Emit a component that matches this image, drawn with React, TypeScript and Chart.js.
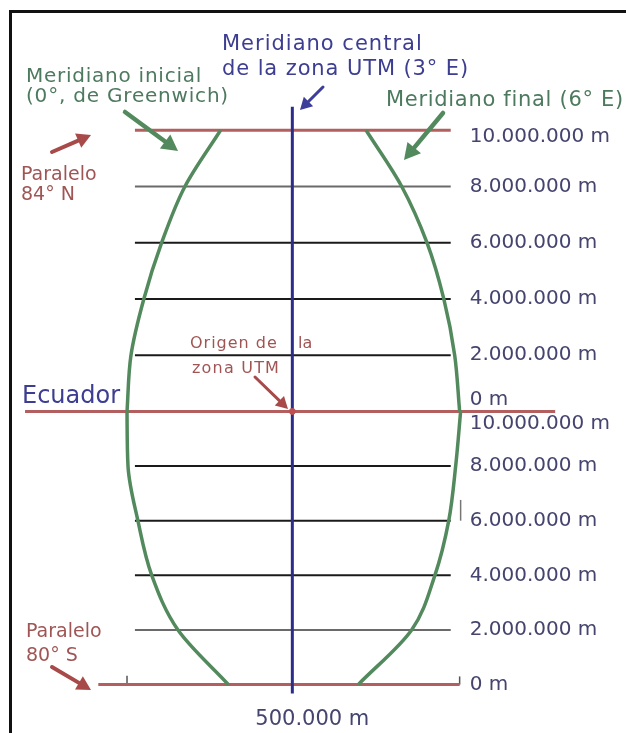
import { useEffect, useRef } from 'react';
import { Chart, registerables } from 'chart.js';

Chart.register(...registerables);

// ---- data (metres) ----
const NORTHING_TICKS = [10000000, 8000000, 6000000, 4000000, 2000000, 0];
const NORTH_LABELS = ['10.000.000 m', '8.000.000 m', '6.000.000 m', '4.000.000 m', '2.000.000 m', '0 m'];
const SOUTH_LABELS = ['10.000.000 m', '8.000.000 m', '6.000.000 m', '4.000.000 m', '2.000.000 m', '0 m'];

const CURVE_NORTHING = [10000000, 8000000, 6000000, 4000000, 2000000, 0];
const LEFT_NORTH_EASTING = [355000, 283000, 236000, 200000, 174000, 166000];
const RIGHT_NORTH_EASTING = [649000, 721000, 772000, 806000, 828000, 838000];
const LEFT_SOUTH_EASTING = [166000, 168000, 188000, 216000, 269000, 371000];
const RIGHT_SOUTH_EASTING = [840000, 830000, 816000, 788000, 741000, 633000];

const GRID_NORTHINGS = [8000000, 6000000, 4000000, 2000000];
const GRID_EASTING = [182000, 820000];
const TOP_PARALLEL = 10000000;
const EQUATOR_EASTING = [-40000, 1031000];
const BOTTOM_EASTING = [108000, 838000];
const CENTRAL_EASTING = 500000;
const CENTRAL_SPAN = [10840000, -10035000];
const X_TICK = 500000;
const X_TICK_LABEL = '500.000 m';

const RED = '#b35f5f';
const GREEN = '#538a5d';
const BLUE = '#2c2c8c';

const FONT = '"DejaVu Sans", sans-serif';

function arrow(ctx: CanvasRenderingContext2D, x1: number, y1: number, x2: number, y2: number, color: string, w: number, head: number) {
  const ang = Math.atan2(y2 - y1, x2 - x1);
  const bx = x2 - head * Math.cos(ang);
  const by = y2 - head * Math.sin(ang);
  ctx.strokeStyle = color;
  ctx.lineWidth = w;
  ctx.lineCap = 'round';
  ctx.beginPath();
  ctx.moveTo(x1, y1);
  ctx.lineTo(bx, by);
  ctx.stroke();
  ctx.fillStyle = color;
  ctx.beginPath();
  ctx.moveTo(x2, y2);
  ctx.lineTo(bx + head * 0.55 * Math.sin(ang), by - head * 0.55 * Math.cos(ang));
  ctx.lineTo(bx - head * 0.55 * Math.sin(ang), by + head * 0.55 * Math.cos(ang));
  ctx.closePath();
  ctx.fill();
}

function text(ctx: CanvasRenderingContext2D, s: string, x: number, y: number, size: number, color: string, spacing = 0) {
  ctx.font = `${size}px ${FONT}`;
  ctx.fillStyle = color;
  (ctx as any).letterSpacing = `${spacing}px`;
  ctx.fillText(s, x, y);
  (ctx as any).letterSpacing = '0px';
}

const overlay = {
  id: 'overlay',
  afterDatasetsDraw(chart: any) {
    const ctx: CanvasRenderingContext2D = chart.ctx;
    const sx = chart.scales.x;
    const yN = chart.scales.y;
    const yS = chart.scales.y2;
    ctx.save();

    // right-hand northing labels
    ctx.textAlign = 'left';
    ctx.textBaseline = 'middle';
    const lx = sx.getPixelForValue(GRID_EASTING[1]) + 19;
    NORTHING_TICKS.forEach((v, i) => {
      let py = yN.getPixelForValue(v);
      if (i === 0) py += 7;
      if (v === 0) py -= 12;
      text(ctx, NORTH_LABELS[i], lx, py, 20, '#44446e');
    });
    NORTHING_TICKS.forEach((v, i) => {
      let py = yS.getPixelForValue(v);
      if (i === 0) py += 12;
      text(ctx, SOUTH_LABELS[i], lx, py, 20, '#44446e');
    });

    // easting label
    ctx.textAlign = 'center';
    ctx.textBaseline = 'alphabetic';
    text(ctx, X_TICK_LABEL, sx.getPixelForValue(X_TICK) + 20, 725, 21, '#44446e');

    // annotations
    ctx.textAlign = 'left';
    text(ctx, 'Meridiano central', 222, 50, 21, '#3d3d92', 1);
    text(ctx, 'de la zona UTM (3° E)', 222, 75, 21, '#3d3d92', 0.9);
    text(ctx, 'Meridiano inicial', 26, 82, 20, '#4d7a5e', 0.75);
    text(ctx, '(0°, de Greenwich)', 26, 102, 20, '#4d7a5e', 0.8);
    text(ctx, 'Meridiano final (6° E)', 386, 106, 21, '#4d7a5e', 0.7);
    text(ctx, 'Paralelo', 21, 180, 19, '#a05555');
    text(ctx, '84° N', 21, 200, 19, '#a05555');
    text(ctx, 'Ecuador', 22, 403, 24, '#3d3d92');
    text(ctx, 'Origen de', 190, 348, 16, '#a05555', 1);
    text(ctx, 'la', 298, 348, 16, '#a05555');
    text(ctx, 'zona UTM', 192, 373, 16, '#a05555', 1.2);
    text(ctx, 'Paralelo', 26, 637, 19, '#a05555');
    text(ctx, '80° S', 26, 661, 19, '#a05555');

    arrow(ctx, 323, 87, 300, 110, '#3d3d9a', 3, 12);
    arrow(ctx, 125, 112, 178, 151, GREEN, 4.5, 16);
    arrow(ctx, 443, 113, 404, 160, GREEN, 4.5, 16);
    arrow(ctx, 52, 152, 91, 135, '#a84a4a', 4, 14);
    arrow(ctx, 255, 377, 288, 409, '#a84a4a', 3, 12);
    arrow(ctx, 52, 667, 91, 690, '#a84a4a', 4, 14);

    ctx.restore();
  },
};

function line(points: { x: number; y: number }[], axis: string, color: string, width: number, order: number) {
  return {
    data: points,
    yAxisID: axis,
    xAxisID: 'x',
    borderColor: color,
    backgroundColor: color,
    borderWidth: width,
    showLine: true,
    pointRadius: 0,
    tension: 0,
    fill: false,
    order,
    clip: false as any,
  };
}

function curve(points: { x: number; y: number }[], axis: string) {
  return {
    ...line(points, axis, GREEN, 3.5, 1),
    indexAxis: 'y',
    cubicInterpolationMode: 'monotone',
  };
}

export default function App() {
  const ref = useRef<HTMLCanvasElement>(null);

  useEffect(() => {
    if (!ref.current) return;
    const datasets: any[] = [];

    // central meridian
    datasets.push(line(CENTRAL_SPAN.map((n) => ({ x: CENTRAL_EASTING, y: n })), 'y', BLUE, 3, 0));

    // origin dot
    datasets.push({
      data: [{ x: CENTRAL_EASTING, y: 0 }],
      yAxisID: 'y',
      xAxisID: 'x',
      pointRadius: 3,
      pointBackgroundColor: '#c05050',
      pointBorderColor: '#c05050',
      showLine: false,
      order: -1,
    });

    // meridian curves
    datasets.push(curve(CURVE_NORTHING.map((n, i) => ({ x: LEFT_NORTH_EASTING[i], y: n })), 'y'));
    datasets.push(curve(CURVE_NORTHING.map((n, i) => ({ x: RIGHT_NORTH_EASTING[i], y: n })), 'y'));
    datasets.push(curve(CURVE_NORTHING.map((n, i) => ({ x: LEFT_SOUTH_EASTING[i], y: n })), 'y2'));
    datasets.push(curve(CURVE_NORTHING.map((n, i) => ({ x: RIGHT_SOUTH_EASTING[i], y: n })), 'y2'));

    // grid parallels
    const northColors = ['#6a6a6a', '#1a1a1a', '#1a1a1a', '#1a1a1a'];
    const southColors = ['#1a1a1a', '#1a1a1a', '#1a1a1a', '#6a6a6a'];
    GRID_NORTHINGS.forEach((n, i) => {
      datasets.push(line(GRID_EASTING.map((e) => ({ x: e, y: n })), 'y', northColors[i], 2, 3));
      datasets.push(line(GRID_EASTING.map((e) => ({ x: e, y: n })), 'y2', southColors[i], 2, 3));
    });

    // red parallels
    datasets.push(line(GRID_EASTING.map((e) => ({ x: e, y: TOP_PARALLEL })), 'y', RED, 3, 2));
    datasets.push(line(EQUATOR_EASTING.map((e) => ({ x: e, y: 0 })), 'y', RED, 3, 2));
    datasets.push(line(BOTTOM_EASTING.map((e) => ({ x: e, y: 0 })), 'y2', RED, 3, 2));

    // small ticks
    datasets.push(line([{ x: LEFT_SOUTH_EASTING[0], y: 0 }, { x: LEFT_SOUTH_EASTING[0], y: 325000 }], 'y2', '#555', 1.5, 2));
    datasets.push(line([{ x: BOTTOM_EASTING[1], y: 0 }, { x: BOTTOM_EASTING[1], y: 300000 }], 'y2', '#555', 1.5, 2));
    datasets.push(line([{ x: RIGHT_SOUTH_EASTING[0], y: 6000000 }, { x: RIGHT_SOUTH_EASTING[0], y: 6760000 }], 'y2', '#777', 1.5, 2));

    const chart = new Chart(ref.current, {
      type: 'line',
      data: { datasets },
      options: {
        animation: false,
        responsive: true,
        maintainAspectRatio: false,
        layout: { padding: 0 },
        plugins: { legend: { display: false }, tooltip: { enabled: false } },
        events: [],
        scales: {
          x: { type: 'linear', display: false, min: -80500, max: 1164000 },
          y: { type: 'linear', display: false, min: -11263000, max: 14456000 },
          y2: { type: 'linear', axis: 'y', display: false, min: -1588000, max: 24874000 },
        } as any,
      },
      plugins: [overlay],
    });
    return () => chart.destroy();
  }, []);

  return (
    <div style={{ position: 'fixed', left: 0, top: 0, width: 626, height: 733, background: '#fff' }}>
      <div
        style={{
          position: 'absolute',
          left: 9,
          top: 10,
          right: -10,
          bottom: -10,
          borderLeft: '3px solid #111',
          borderTop: '3px solid #111',
        }}
      />
      <div style={{ position: 'absolute', left: 0, top: 0, width: 626, height: 733 }}>
        <canvas ref={ref} />
      </div>
    </div>
  );
}
